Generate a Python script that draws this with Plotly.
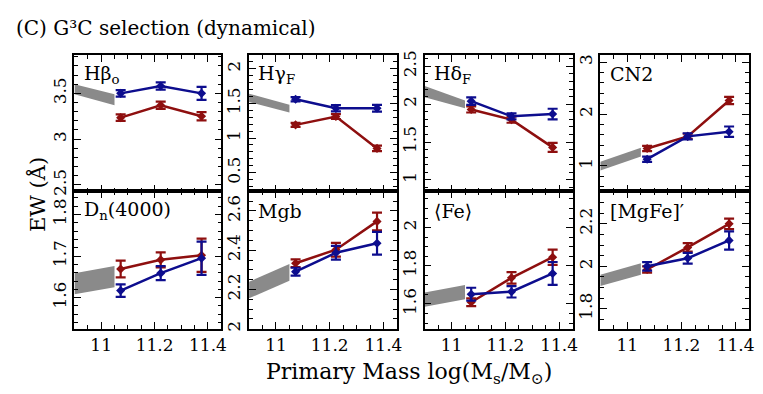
import plotly.graph_objects as go

# stellar mass bins (log Ms/Msun) and the extent of the grey reference band
mass = [11.073, 11.223, 11.376]
band_mass = [10.9, 11.05]

indices = ['Hβ<sub>o</sub>', 'Hγ<sub>F</sub>', 'Hδ<sub>F</sub>', 'CN2',
           'D<sub>n</sub>(4000)', 'Mgb', '⟨Fe⟩', '[MgFe]′']

red_ew = [
    [3.235, 3.37, 3.25],
    [1.19, 1.31, 0.85],
    [1.93, 1.795, 1.43],
    [1.335, 1.57, 2.26],
    [1.669, 1.691, 1.702],
    [2.334, 2.403, 2.547],
    [1.609, 1.737, 1.845],
    [1.985, 2.089, 2.2],
]
red_err = [
    [0.035, 0.04, 0.045],
    [0.03, 0.035, 0.04],
    [0.04, 0.04, 0.06],
    [0.05, 0.05, 0.07],
    [0.02, 0.018, 0.04],
    [0.02, 0.035, 0.045],
    [0.02, 0.03, 0.04],
    [0.015, 0.02, 0.025],
]
blue_ew = [
    [3.50, 3.58, 3.50],
    [1.56, 1.43, 1.43],
    [2.04, 1.84, 1.87],
    [1.13, 1.57, 1.66],
    [1.617, 1.659, 1.695],
    [2.291, 2.387, 2.436],
    [1.651, 1.664, 1.76],
    [2.0, 2.038, 2.122],
]
blue_err = [
    [0.035, 0.04, 0.07],
    [0.03, 0.045, 0.05],
    [0.05, 0.04, 0.07],
    [0.05, 0.06, 0.1],
    [0.015, 0.017, 0.04],
    [0.02, 0.035, 0.058],
    [0.034, 0.03, 0.06],
    [0.02, 0.025, 0.043],
]
band_lo = [
    [3.49, 3.37],
    [1.52, 1.37],
    [2.09, 1.945],
    [0.91, 1.18],
    [1.608, 1.625],
    [2.155, 2.245],
    [1.585, 1.625],
    [1.907, 1.96],
]
band_hi = [
    [3.60, 3.49],
    [1.64, 1.48],
    [2.24, 2.05],
    [1.08, 1.35],
    [1.659, 1.676],
    [2.24, 2.33],
    [1.66, 1.70],
    [1.96, 2.015],
]

# axis settings per panel
y_ranges = [[2.43, 3.92], [0.23, 2.2], [0.85, 2.65], [0.51, 3.14],
            [1.525, 1.856], [2.0, 2.7], [1.47, 2.19], [1.706, 2.353]]
y_dtick = [0.5, 0.5, 0.5, 1, 0.1, 0.2, 0.2, 0.2]
y_minor = [0.1, 0.1, 0.1, 0.2, 0.02, 0.05, 0.05, 0.05]

W, H = 763, 394
col_px = [(67, 215), (243, 392), (420, 569), (597, 747)]
row_px = [(43, 183), (183, 324)]

RED = '#8e0f0f'
BLUE = '#0d0d8e'
GREY = '#8a8a8a'
FONT = 'DejaVu Serif'

fig = go.Figure()
axis_common = dict(
    showline=True, linecolor='black', linewidth=1.6, mirror='allticks',
    ticks='inside', ticklen=7, tickwidth=1.3, tickcolor='black',
    showgrid=False, zeroline=False,
    tickfont=dict(family=FONT, size=17, color='black'),
)

for i in range(8):
    n = '' if i == 0 else str(i + 1)
    r, c = divmod(i, 4)
    xa, ya = f'x{n}', f'y{n}'

    fig.add_trace(go.Scatter(x=band_mass, y=band_lo[i], mode='lines',
                             line=dict(width=0, color=GREY),
                             xaxis=xa, yaxis=ya, showlegend=False))
    fig.add_trace(go.Scatter(x=band_mass, y=band_hi[i], mode='lines',
                             line=dict(width=0, color=GREY), fill='tonexty',
                             fillcolor=GREY, xaxis=xa, yaxis=ya, showlegend=False))

    for vals, errs, color in [(red_ew[i], red_err[i], RED), (blue_ew[i], blue_err[i], BLUE)]:
        fig.add_trace(go.Scatter(
            x=mass, y=vals, mode='lines+markers',
            line=dict(color=color, width=2.5),
            marker=dict(color=color, size=7, symbol='diamond'),
            error_y=dict(type='data', array=errs, visible=True,
                         color=color, thickness=2.2, width=5),
            xaxis=xa, yaxis=ya, showlegend=False,
        ))

    x0, x1 = col_px[c]
    y0, y1 = row_px[r]
    fig.layout[f'xaxis{n}'] = dict(
        axis_common, domain=[x0 / W, x1 / W], range=[10.9, 11.45], anchor=ya,
        tick0=11, dtick=0.2, showticklabels=(r == 1),
        minor=dict(dtick=0.05, ticklen=4, tickwidth=1.2, ticks='inside', tickcolor='black'),
    )
    fig.layout[f'yaxis{n}'] = dict(
        axis_common, domain=[1 - y1 / H, 1 - y0 / H], range=y_ranges[i], anchor=xa,
        dtick=y_dtick[i], tickangle=-90, ticklabelstandoff=0,
        minor=dict(dtick=y_minor[i], ticklen=4, tickwidth=1.2, ticks='inside', tickcolor='black'),
    )

    fig.add_annotation(text=indices[i], xref=f'{xa} domain', yref=f'{ya} domain',
                       x=0.05, y=0.86, xanchor='left', yanchor='middle', showarrow=False,
                       font=dict(family=FONT, size=19, color='black'))

fig.add_annotation(text='(C) G³C selection (dynamical)', xref='paper', yref='paper',
                   x=6 / W, y=1 - 15 / H, xanchor='left', yanchor='middle', showarrow=False,
                   font=dict(family=FONT, size=20, color='black'))
fig.add_annotation(text='Primary Mass log(M<sub>s</sub>/M<sub>⊙</sub>)', xref='paper', yref='paper',
                   x=404 / W, y=1 - 370 / H, xanchor='center', yanchor='middle', showarrow=False,
                   font=dict(family=FONT, size=22, color='black'))
fig.add_annotation(text='EW (Å)', xref='paper', yref='paper', textangle=-90,
                   x=30 / W, y=1 - 186 / H, xanchor='center', yanchor='middle', showarrow=False,
                   font=dict(family=FONT, size=21, color='black'))

fig.update_layout(
    width=W, height=H, margin=dict(l=0, r=0, t=0, b=0),
    plot_bgcolor='white', paper_bgcolor='white',
)

fig.write_html('out.html')
